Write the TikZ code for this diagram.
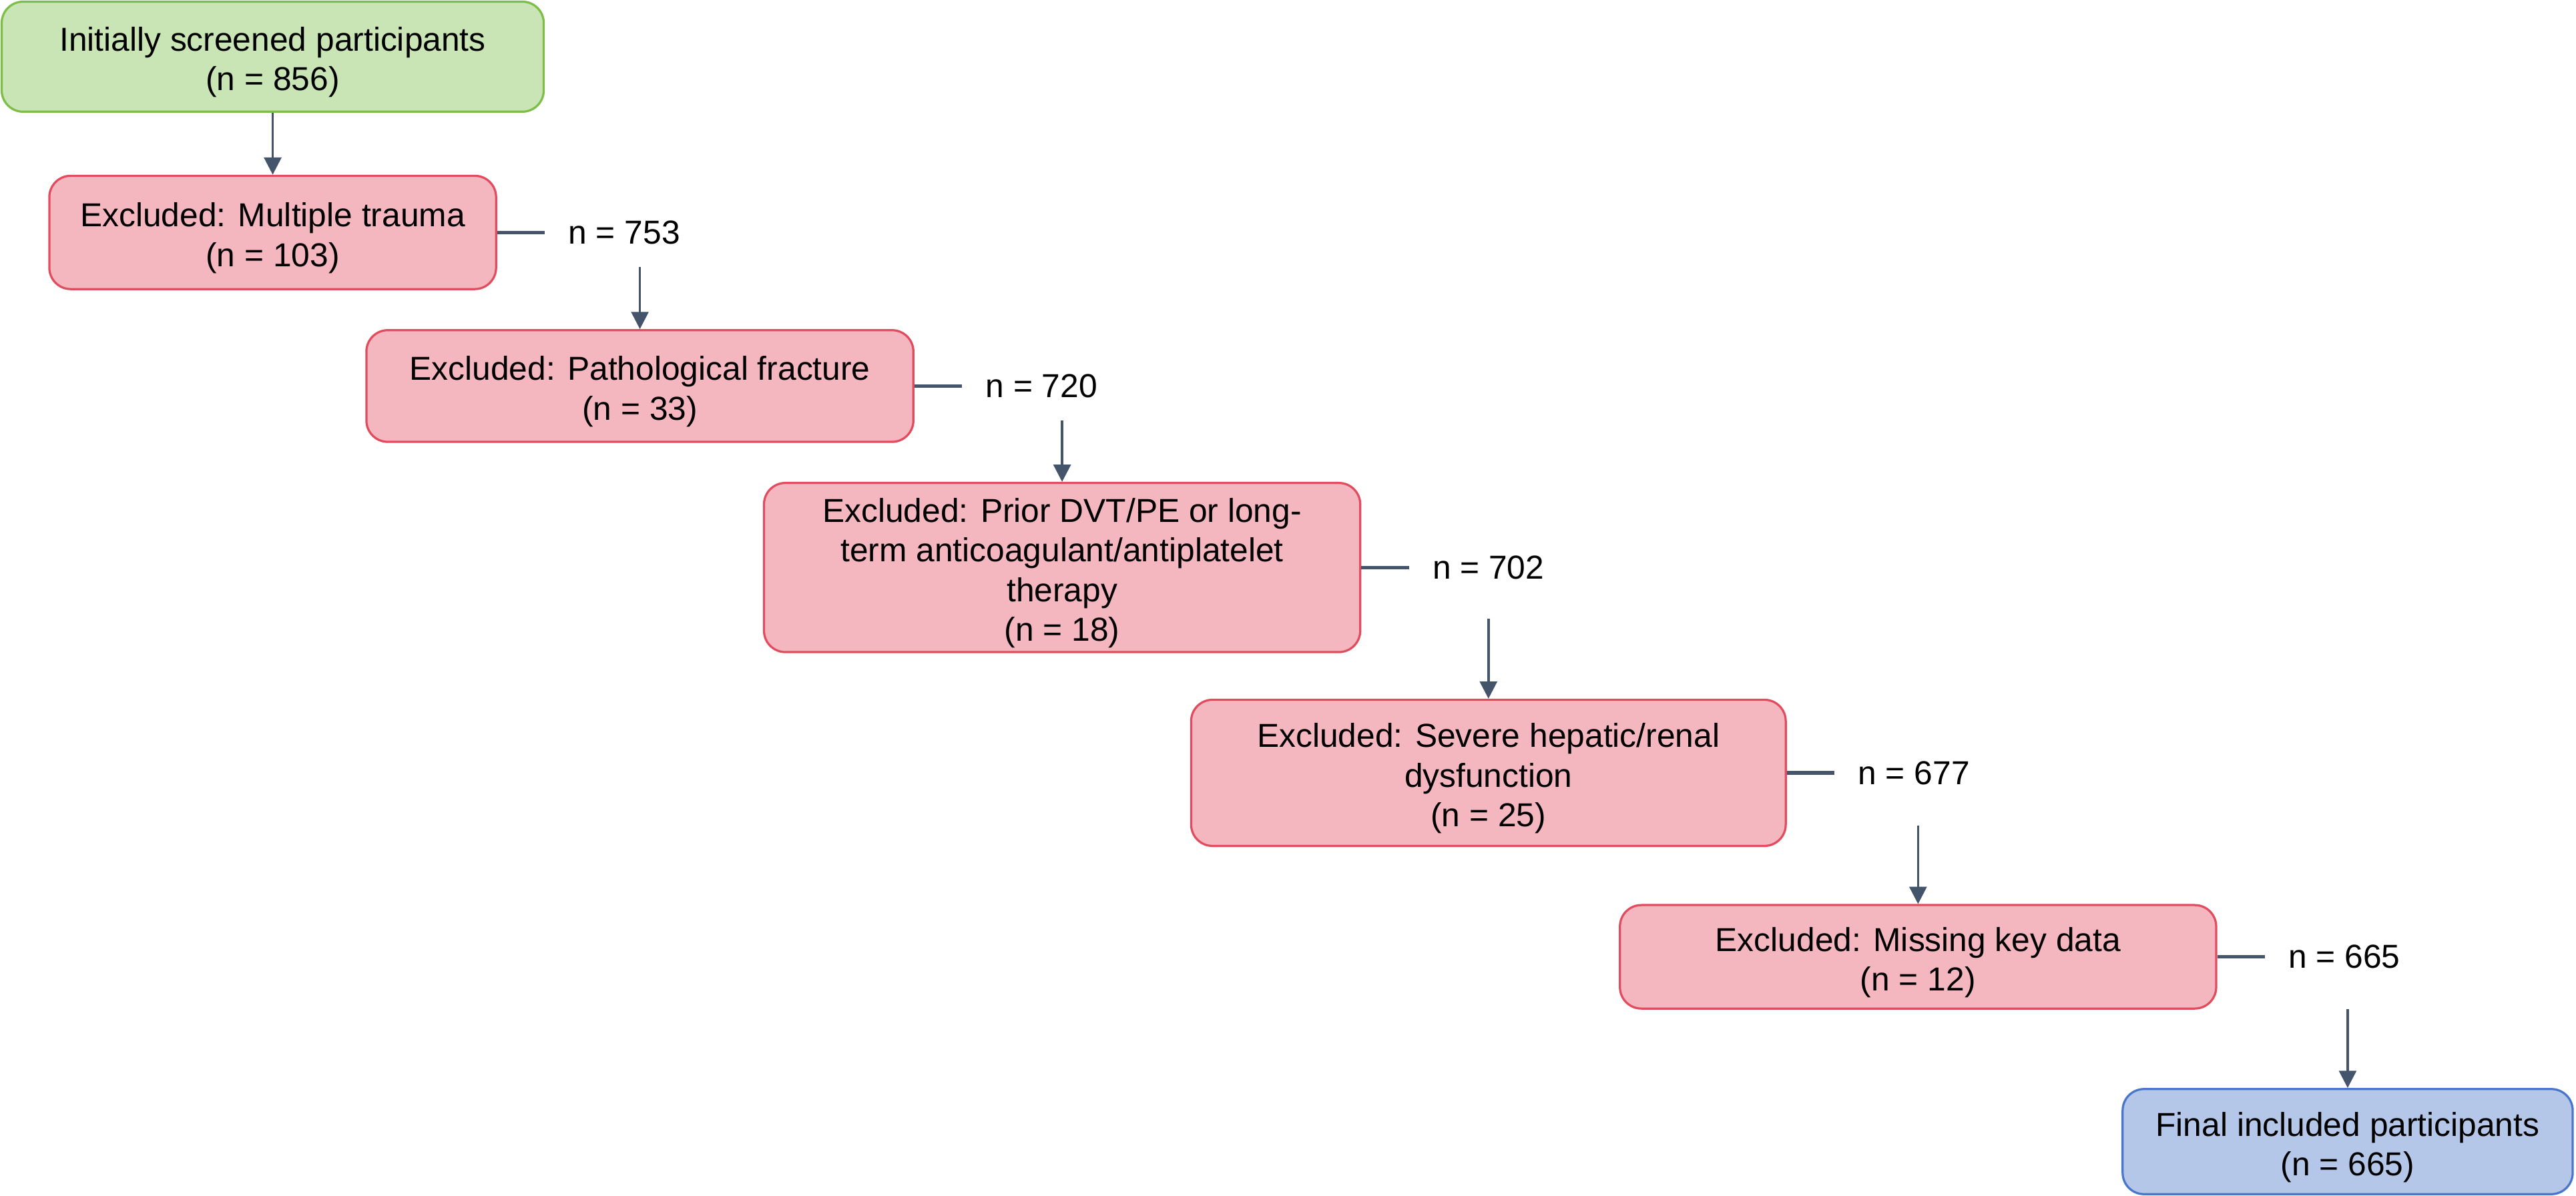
\documentclass[tikz,border=0pt]{standalone}
\usepackage{fontspec}
\setmainfont{Liberation Sans}
\usetikzlibrary{arrows.meta,positioning}
\definecolor{greenfill}{HTML}{C9E4B5}
\definecolor{greenline}{HTML}{7DBE47}
\definecolor{redfill}{HTML}{F4B6BF}
\definecolor{redline}{HTML}{E24C5F}
\definecolor{bluefill}{HTML}{B5C7E8}
\definecolor{blueline}{HTML}{4A76CA}
\definecolor{slate}{HTML}{44546A}
\newcommand{\boxstrut}{\rule{0pt}{12.2pt}}
\tikzset{
	box/.style={draw, rounded corners=0.26cm, line width=0.75pt, align=center, inner sep=0pt,
		font=\fontsize{11.5}{13.7}\selectfont},
	startbox/.style={box, draw=greenline, fill=greenfill},
	exclbox/.style={box, draw=redline, fill=redfill},
	finalbox/.style={box, draw=blueline, fill=bluefill},
	count/.style={inner xsep=0.28cm, inner ysep=0pt, font=\fontsize{11.5}{13.7}\selectfont},
	link/.style={draw=slate, line width=1.2pt},
	arr/.style={->, draw=slate, line width=0.8pt}
}
\begin{document}
\begin{tikzpicture}[>={Triangle[length=2.1mm,width=2.1mm]}, x=0.02cm, y=-0.02cm]
		\useasboundingbox (0,0) rectangle (1568,728);
		% boxes
		\node[startbox, minimum width=6.6cm, minimum height=1.34cm] (screened) at (166,34.5) {\boxstrut Initially screened participants\\(n = 856)};
		\node[exclbox, minimum width=5.44cm, minimum height=1.38cm] (multi) at (166,141.5) {\boxstrut Excluded: Multiple trauma\\(n = 103)};
		\node[exclbox, minimum width=6.66cm, minimum height=1.36cm] (patho) at (389.5,235) {\boxstrut Excluded: Pathological fracture\\(n = 33)};
		\node[exclbox, minimum width=7.26cm, minimum height=2.06cm] (prior) at (646.5,345.5) {\boxstrut Excluded: Prior DVT/PE or long-\\term anticoagulant/antiplatelet\\therapy\\(n = 18)};
		\node[exclbox, minimum width=7.24cm, minimum height=1.78cm] (hepatic) at (906,470.5) {\boxstrut Excluded: Severe hepatic/renal\\dysfunction\\(n = 25)};
		\node[exclbox, minimum width=7.26cm, minimum height=1.26cm] (missing) at (1167.5,582.5) {\boxstrut Excluded: Missing key data\\(n = 12)};
		\node[finalbox, minimum width=5.48cm, minimum height=1.28cm] (final) at (1429,695) {\boxstrut Final included participants\\(n = 665)};
		% remaining counts
		\node[count, right=0.58cm of multi] (n753) {n = 753};
		\node[count, right=0.58cm of patho] (n720) {n = 720};
		\node[count, right=0.58cm of prior] (n702) {n = 702};
		\node[count, right=0.58cm of hepatic] (n677) {n = 677};
		\node[count, right=0.58cm of missing] (n665) {n = 665};
		\draw[link] (multi) -- (n753);
		\draw[link] (patho) -- (n720);
		\draw[link] (prior) -- (n702);
		\draw[link] (hepatic) -- (n677);
		\draw[link] (missing) -- (n665);
		% arrows
		\draw[arr] (screened) -- (multi);
		\draw[arr] ([yshift=-0.42cm]n753.center -| patho.north) -- (patho.north);
		\draw[arr] ([yshift=-0.42cm]n720.center -| prior.north) -- (prior.north);
		\draw[arr] ([yshift=-0.62cm]n702.center -| hepatic.north) -- (hepatic.north);
		\draw[arr] ([yshift=-0.64cm]n677.center -| missing.north) -- (missing.north);
		\draw[arr] ([yshift=-0.64cm]n665.center -| final.north) -- (final.north);
\end{tikzpicture}
\end{document}
